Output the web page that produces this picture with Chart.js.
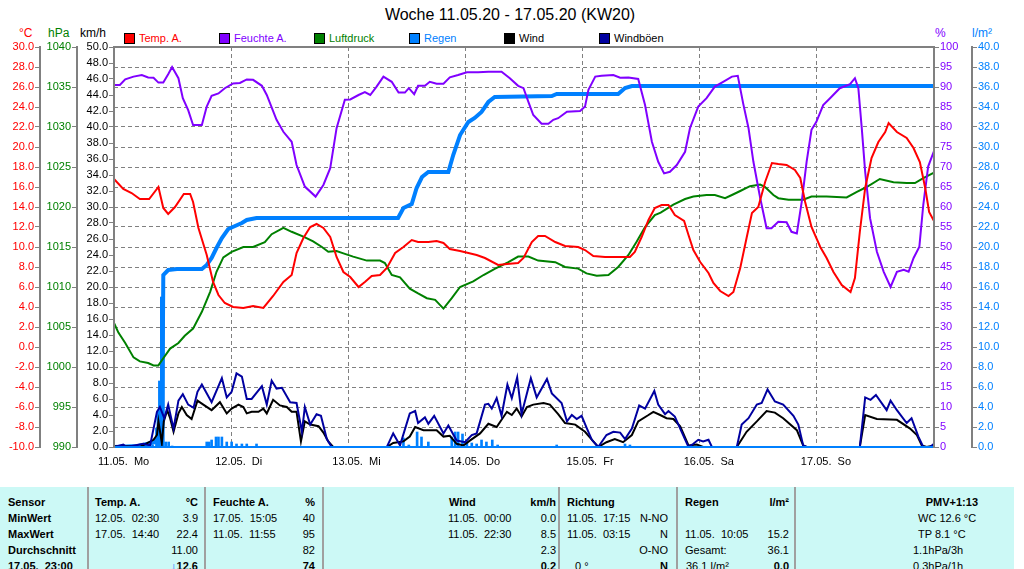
<!DOCTYPE html>
<html>
<head>
<meta charset="utf-8">
<script src="https://cdn.jsdelivr.net/npm/chart.js@4.4.1/dist/chart.umd.min.js"></script>
<style>
  body { margin: 0; width: 1024px; height: 569px; position: relative; overflow: hidden; background: #fff;
         font-family: 'Liberation Sans', Arial, sans-serif; font-size: 11px; }
  .abs { position: absolute; white-space: pre; line-height: 14px; }
  #title { position: absolute; left: 0; width: 1020px; top: 6px; text-align: center; font-size: 16px; color: #000; }
  .sq { position: absolute; width: 9px; height: 9px; border: 1px solid #000; top: 33px; }
  #tab { position: absolute; left: 0; top: 487px; width: 1014px; height: 82px; background: #ccf9f6; }
  #tab .abs { line-height: 16px; }
  .sep { position: absolute; top: 0; width: 2px; height: 82px; background: #a0a0a0; }
</style>
</head>
<body>

<div id="title">Woche 11.05.20 - 17.05.20 (KW20)</div>

<!-- einheiten -->
<div class="abs" style="left:19px; top:26px; color:#ff0000; font-size:12px">°C</div>
<div class="abs" style="left:48px; top:26px; color:#008000; font-size:12px">hPa</div>
<div class="abs" style="left:80px; top:26px; color:#000; font-size:12px">km/h</div>
<div class="abs" style="left:935px; top:26px; color:#8000ff; font-size:12px">%</div>
<div class="abs" style="left:972px; top:26px; color:#0080ff; font-size:12px">l/m²</div>

<!-- legende -->
<div class="sq" style="left:124px; background:#ff0000"></div><div class="abs" style="left:139px; top:31px; color:#ff0000">Temp. A.</div>
<div class="sq" style="left:219px; background:#8000ff"></div><div class="abs" style="left:234px; top:31px; color:#8000ff">Feuchte A.</div>
<div class="sq" style="left:314px; background:#008000"></div><div class="abs" style="left:329px; top:31px; color:#008000">Luftdruck</div>
<div class="sq" style="left:409px; background:#0080ff"></div><div class="abs" style="left:424px; top:31px; color:#0080ff">Regen</div>
<div class="sq" style="left:504px; background:#000000"></div><div class="abs" style="left:519px; top:31px; color:#000">Wind</div>
<div class="sq" style="left:599px; background:#0000a0"></div><div class="abs" style="left:614px; top:31px; color:#000">Windböen</div>

<canvas id="chart" width="1024" height="487" style="position:absolute; left:0; top:0"></canvas>

<div id="tab"></div>

<script>
// TAGE (x achse in stunden ab 11.05. 00:00)

const dayLabels = ['11.05.  Mo', '12.05.  Di', '13.05.  Mi', '14.05.  Do', '15.05.  Fr', '16.05.  Sa', '17.05.  So'];

// TEMPERATUR

const tempHours = [0,1.9,3.6,5.3,7.2,9.1,10.1,11.1,12.5,14.3,15.6,16.2,17.3,19.0,20.3,21.4,22.7,24.4,26.5,28.5,
  30.6,32.6,34.7,36.4,37.4,38.8,40.2,41.5,42.9,44.3,45.6,47.0,48.4,50.1,51.4,52.8,54.5,55.9,57.6,59.3,
  61.0,62.3,64.4,66.1,67.5,68.8,70.9,72.6,74.3,76.0,78.7,80.5,82.8,83.9,85.6,86.9,88.3,90.4,92.4,95.1,
  96.5,98.2,100.6,103.3,105.7,106.7,108.1,109.5,110.8,112.2,113.6,114.9,116.8,117.7,118.7,120.1,121.8,122.8,124.2,125.9,
  126.9,128.3,129.6,130.7,132.0,133.4,134.8,136.1,137.8,139.5,140.6,141.6,142.9,144.7,146.0,147.4,149.1,150.9,151.8,152.8,
  153.9,155.2,156.6,158.0,158.7,160.4,162.4,163.8,165.1,166.2,167.0,168];
const tempValues = [16.8,15.8,15.4,14.8,14.8,16.0,13.9,13.3,14.0,15.3,15.3,14.5,11.9,9.2,6.5,5.2,4.4,4.0,3.9,4.1,
  3.9,5.1,6.5,7.2,9.4,10.9,12.0,12.3,11.9,11.0,9.0,7.5,7.0,6.0,6.5,7.1,7.2,7.9,9.4,10.0,
  10.7,10.5,10.5,10.6,10.4,9.8,9.6,9.4,9.2,8.9,8.2,8.3,8.4,8.9,10.5,11.1,11.1,10.5,10.1,10.0,
  9.7,9.1,9.0,9.0,9.0,9.5,11.0,12.7,13.9,14.2,14.2,13.2,12.6,11.2,9.7,8.5,7.4,6.4,5.6,5.1,
  5.5,7.9,10.9,13.4,14.0,16.5,18.4,18.3,18.2,17.7,16.9,14.5,12.0,10.0,8.9,7.5,6.2,5.5,6.9,11.5,
  15.9,18.9,20.5,21.5,22.4,21.5,20.9,19.9,18.5,15.9,13.5,12.6];

// FEUCHTE

const humHours = [0,1.2,2.3,4.0,5.7,7.0,8.1,9.1,10.1,11.1,11.9,13.2,14.1,15.2,16.2,18.0,19.0,20.0,21.4,22.7,
  24.4,25.8,27.2,28.5,30.3,31.3,33.3,34.7,36.4,37.4,39.1,41.3,42.9,44.3,45.6,47.3,48.4,50.1,51.4,52.5,
  53.8,55.2,56.9,58.3,59.6,60.4,61.5,62.3,63.7,64.7,66.1,67.5,68.8,70.5,72.3,74.6,76.7,79.4,81.1,82.8,
  83.9,84.9,85.9,87.6,89.0,90.0,91.0,92.8,95.5,96.5,97.2,98.6,99.9,102.3,103.7,105.4,107.4,108.8,110.2,111.5,
  112.7,113.9,115.3,117.0,118.0,119.7,121.4,123.1,124.8,126.6,127.8,128.9,130.0,131.0,132.4,133.7,134.7,136.1,137.8,138.8,
  139.9,140.9,141.9,142.9,143.9,145.3,146.7,148.7,150.8,151.8,152.5,153.2,153.9,154.9,156.3,157.7,159.1,160.4,161.8,162.8,
  163.8,165.0,165.8,166.8,168];
const humValues = [90.5,90.5,91.9,92.6,93.0,92.4,92.3,91.1,91.1,93.2,95,92.2,87.2,84.2,80.5,80.5,85.1,87.8,88.4,89.7,
  90.9,91.0,91.9,91.8,90.3,88.0,81.8,78.8,76.3,70.5,65.1,62.6,65.5,69.7,79.7,86.8,86.9,88.0,88.7,88.0,
  90.1,92.6,91.3,88.6,88.6,89.7,88.2,90.3,90.3,91.3,90.8,90.8,92.4,93.0,93.7,93.7,93.8,93.8,92.2,90.3,
  89.7,86.3,83.0,80.8,80.8,81.8,82.2,83.8,84.0,85.1,89.3,92.6,92.8,93.0,92.3,92.4,92.0,85.5,76.3,71.3,
  68.4,68.8,70.5,73.8,79.7,85.1,87.2,90.1,91.3,92.6,92.8,85.9,79.7,71.3,62.2,54.7,54.7,56.3,56.2,53.8,
  53.4,61.3,71.3,79.3,81.3,85.5,87.2,89.7,90.7,92.2,89.7,79.7,68.8,57.2,48.8,43.8,40,43.8,44.3,43.8,
  47.2,50.1,60.5,70.1,74];

// LUFTDRUCK

const pressHours = [0,0.9,2.3,4.0,5.3,7.0,8.1,9.1,10.1,11.5,13.2,14.5,16.2,18.0,19.7,21.0,22.4,24.1,26.5,28.5,
  30.9,32.3,34.7,36.4,38.8,40.8,42.6,43.9,45.6,47.0,49.0,51.8,54.5,55.5,56.9,58.6,60.6,62.3,64.1,65.8,
  67.5,69.2,70.9,73.6,75.7,78.1,80.8,82.8,84.9,86.9,90.4,92.4,95.1,96.8,98.9,101.3,103.3,105.4,107.1,108.8,
  110.8,112.0,114.6,117.0,118.7,121.4,123.1,125.2,126.6,128.3,130.3,132.4,133.4,135.1,136.1,138.2,141.2,142.9,146.0,150.1,
  152.2,154.2,156.9,159.7,162.4,164.1,165.8,168];
const pressValues = [1005.5,1004.3,1003.0,1001.2,1000.7,1000.5,1000.2,1000.2,1001.1,1002.3,1003.0,1003.9,1004.8,1006.9,1009.4,1011.9,1013.7,1014.4,1015.0,1015.0,
  1015.6,1016.6,1017.4,1016.9,1016.3,1015.7,1015.0,1014.4,1014.5,1014.2,1013.8,1013.3,1013.3,1013.0,1011.5,1011.2,1009.8,1009.2,1008.6,1008.4,
  1007.3,1008.6,1010.0,1010.7,1011.5,1012.3,1013.1,1013.8,1013.8,1013.3,1013.1,1012.5,1012.3,1011.7,1011.4,1011.5,1012.5,1014.0,1015.7,1017.5,
  1019.0,1019.3,1020.3,1021.0,1021.3,1021.5,1021.5,1021.1,1021.5,1022.0,1022.6,1022.8,1022.5,1021.5,1021.1,1020.9,1020.9,1021.3,1021.3,1021.2,
  1021.9,1022.5,1023.5,1023.1,1023.0,1023.0,1023.6,1024.3];

// REGEN (summe und einzelwerte)

const rainSumHours = [0,5,8.5,9.3,9.9,10.1,11.1,12.9,18.0,19.0,20.0,21.0,22.1,23.4,24.8,26.2,27.2,29.2,58.2,59.3,
  61.0,62.0,63.1,64.4,68.5,69.5,70.9,72.6,73.9,75.3,76.7,78.0,89.7,90.7,103.3,104.7,106.1,168];
const rainSumValues = [0,0.1,0.5,1.5,3.0,17.2,17.7,17.8,17.8,18.2,18.9,19.9,20.9,21.8,22.1,22.4,22.7,22.9,22.9,23.9,
  24.3,25.9,27.0,27.5,27.5,29.2,31.2,32.5,32.9,33.5,34.5,35.0,35.1,35.3,35.3,35.9,36.1,36.1];

const rainHours = [4.5,5.3,6.1,7.0,7.9,8.7,9.0,9.3,9.7,10.1,10.6,11.2,11.9,19.0,19.5,20.0,20.9,21.4,22.1,23.1,
  24.1,25.1,26.2,27.2,29.2,59.3,60.4,62.1,63.0,64.4,69.2,69.9,70.5,71.4,72.3,73.3,74.3,75.3,76.3,77.5,
  78.6,90.7,104.7,105.7];
const rainValues = [0.1,0.2,0.2,0.2,0.2,1.9,3.5,6.6,15.0,15.2,0.5,0.5,0.1,0.5,0.5,0.7,1.0,1.0,1.0,0.5,
  0.5,0.3,0.3,0.3,0.3,0.9,0.2,1.5,1.0,0.5,1.0,1.5,1.5,1.3,0.5,0.4,0.3,0.7,0.5,0.7,
  0.2,0.2,0.3,0.2];

// WIND

const windHours = [0,4.5,5.3,8.1,8.8,9.1,9.8,10.2,10.9,11.5,12.2,13.2,13.9,14.9,15.9,17.1,18.3,20.0,21.7,23.1,
  24.1,25.5,26.5,27.2,28.2,29.6,30.6,31.3,32.6,34.0,35.4,36.4,37.4,38.3,39.1,40.2,41.9,42.9,43.9,44.9,
  55.9,57.2,59.3,60.6,61.7,63.4,66.1,67.5,68.8,70.2,71.6,72.9,75.0,76.7,78.4,80.5,81.5,82.5,83.5,84.6,
  85.9,88.0,89.3,91.0,92.4,94.5,96.5,98.2,99.2,100.9,102.6,104.3,106.1,107.4,109.5,110.5,111.9,113.2,114.6,116.0,
  117.7,119.4,120.7,127.6,129.6,131.7,133.7,135.4,137.1,139.9,141.2,141.9,152.8,153.9,156.3,160.4,163.1,164.5,165.5,166.5,168];
const windValues = [0.1,0.1,0.0,0.9,1.5,3.2,0.5,3.2,4.6,3.6,1.9,4.2,5.0,4.0,3.5,5.8,5.3,4.6,5.6,4.2,
  4.8,5.3,5.0,4.2,4.4,4.4,4.8,4.2,5.9,5.2,5.0,4.4,4.4,0.7,3.2,2.8,2.6,1.8,0.7,0,
  0,0.5,0.7,1.3,2.5,2.1,2.1,1.3,1.4,0.4,0.2,0.8,1.7,2.9,2.5,4.4,4.0,4.8,3.8,5.0,
  5.3,5.5,5.3,4.1,3.0,2.8,1.9,0.7,0,0.6,1.0,0.6,1.5,3.2,4.0,4.4,4.0,3.6,3.5,2.6,
  0.2,0.3,0,0,1.9,3.2,4.5,4.3,3.6,2.1,0.2,0,0,4.0,3.5,3.4,2.3,1.5,0.2,0,0.2];

// WINDBOEEN

const gustHours = [0,1.9,2.6,6.0,7.4,8.8,9.4,10.3,11.1,12.2,13.2,14.1,15.2,16.3,17.1,18.0,20.0,22.1,23.1,24.1,
  25.1,26.2,27.2,28.2,30.3,31.3,32.3,33.3,34.4,36.1,37.4,38.5,39.1,40.2,41.5,42.4,43.6,44.6,55.9,57.2,
  58.6,60.6,61.7,62.3,63.7,64.4,65.6,67.5,68.5,70.2,71.9,73.3,74.3,76.0,76.7,77.4,78.4,79.4,80.6,81.5,
  82.6,83.5,85.4,86.6,88.7,89.7,91.7,92.8,93.8,94.8,95.8,96.9,97.9,99.2,100.9,102.3,103.7,104.7,106.1,107.6,
  108.8,110.7,111.5,112.9,113.6,114.9,116.3,117.7,118.7,119.7,120.7,121.8,122.5,127.6,128.6,130.0,131.7,132.7,133.9,135.4,
  137.1,139.2,140.2,141.2,141.9,152.8,153.9,155.0,156.1,158.3,159.1,160.4,162.4,163.4,164.8,165.8,167.2,168];
const gustValues = [0,0.3,0,0.4,0.2,4.4,5.0,3.6,5.3,2.3,5.8,6.6,5.3,4.9,6.9,7.8,5.6,8.6,6.2,6.9,
  9.2,8.8,6.0,6.0,7.6,5.3,8.3,7.3,7.4,5.6,5.5,1.9,5.0,2.8,4.1,3.9,1.0,0,0,1.7,
  0.2,4.2,4.5,3.0,3.7,2.9,3.9,1.7,2.7,0.8,0.6,1.5,1.7,5.3,5.4,4.8,6.1,3.9,7.8,6.1,
  8.7,4.1,8.6,6.2,8.5,6.7,5.5,3.2,4.0,3.5,3.9,2.3,0.9,0,1.5,1.9,1.8,1.0,2.3,5.2,
  4.8,7.0,5.3,4.1,4.5,3.8,1.9,0,0.4,0.9,0.7,0.9,0,0,2.8,3.6,5.3,5.5,7.2,5.7,
  5.3,3.9,2.8,0.2,0,0,6.2,5.9,6.5,4.6,5.8,4.6,3.0,3.6,1.3,0,0,0.4];

function pts(hours, values){
    return hours.map((h, i) => ({x: h, y: values[i]}));
}

// TABELLE

const tabCells = [
    // text, x, zeile, ausrichtung, fett
    ['Sensor', 8, 0, 'l', 1], ['Temp. A.', 95, 0, 'l', 1], ['°C', 198, 0, 'r', 1], ['Feuchte A.', 213, 0, 'l', 1], ['%', 315, 0, 'r', 1],
    ['Wind', 449, 0, 'l', 1], ['km/h', 556, 0, 'r', 1], ['Richtung', 567, 0, 'l', 1], ['Regen', 685, 0, 'l', 1], ['l/m²', 789, 0, 'r', 1], ['PMV+1:13', 978, 0, 'r', 1],
    ['MinWert', 8, 1, 'l', 1], ['12.05.  02:30', 95, 1, 'l', 0], ['3.9', 198, 1, 'r', 0], ['17.05.  15:05', 213, 1, 'l', 0], ['40', 315, 1, 'r', 0],
    ['11.05.  00:00', 448, 1, 'l', 0], ['0.0', 556, 1, 'r', 0], ['11.05.  17:15', 567, 1, 'l', 0], ['N-NO', 668, 1, 'r', 0], ['WC 12.6 °C', 918, 1, 'l', 0],
    ['MaxWert', 8, 2, 'l', 1], ['17.05.  14:40', 95, 2, 'l', 0], ['22.4', 198, 2, 'r', 0], ['11.05.  11:55', 213, 2, 'l', 0], ['95', 315, 2, 'r', 0],
    ['11.05.  22:30', 448, 2, 'l', 0], ['8.5', 556, 2, 'r', 0], ['11.05.  03:15', 567, 2, 'l', 0], ['N', 668, 2, 'r', 0], ['11.05.  10:05', 685, 2, 'l', 0], ['15.2', 789, 2, 'r', 0], ['TP 8.1 °C', 918, 2, 'l', 0],
    ['Durchschnitt', 8, 3, 'l', 1], ['11.00', 198, 3, 'r', 0], ['82', 315, 3, 'r', 0], ['2.3', 556, 3, 'r', 0], ['O-NO', 668, 3, 'r', 0],
    ['Gesamt:', 685, 3, 'l', 0], ['36.1', 789, 3, 'r', 0], ['1.1hPa/3h', 913, 3, 'l', 0],
    ['17.05.  23:00', 8, 4, 'l', 1], ['12.6', 198, 4, 'r', 1], ['74', 315, 4, 'r', 1], ['0.2', 556, 4, 'r', 1], [' 0 °', 572, 4, 'l', 0], ['N', 668, 4, 'r', 1],
    ['36.1 l/m²', 686, 4, 'l', 0], ['0.0', 789, 4, 'r', 1], ['0.3hPa/1h', 913, 4, 'l', 0]
];

let tab = document.getElementById('tab');
[88, 205, 323, 559, 677, 795].forEach(x => {
    let d = document.createElement('div');
    d.className = 'sep';
    d.style.left = (x - 1) + 'px';
    tab.appendChild(d);
});
tabCells.forEach(c => {
    let d = document.createElement('div');
    d.className = 'abs';
    d.style.top = (7 + c[2] * 16) + 'px';
    if (c[3] == 'l') d.style.left = c[1] + 'px';
    else d.style.right = (1014 - c[1]) + 'px';
    if (c[4]) d.style.fontWeight = 'bold';
    d.textContent = c[0];
    if (c[0] == '12.6') d.innerHTML = '<span style="color:#0050ff">↓</span>12.6';
    tab.appendChild(d);
});

// GRAFIK

Chart.defaults.font.family = "'Liberation Sans', Arial, sans-serif";
Chart.defaults.font.size = 11;

const frame = {
    id: 'frame',
    afterDatasetsDraw(chart){
        const {ctx, chartArea: {left, top, right, bottom}} = chart;
        ctx.save();
        ctx.strokeStyle = '#0080ff';
        ctx.lineWidth = 2;
        ctx.beginPath();
        ctx.moveTo(left, bottom);
        ctx.lineTo(right, bottom);
        ctx.stroke();
        ctx.strokeStyle = '#808080';
        ctx.lineWidth = 2;
        ctx.beginPath();
        ctx.moveTo(left, bottom + 1);
        ctx.lineTo(left, top);
        ctx.lineTo(right, top);
        ctx.lineTo(right, bottom + 1);
        ctx.stroke();
        ctx.restore();
    }
};

function noPad(s){
    s.paddingLeft = 0; s.paddingRight = 0; s.paddingTop = 0; s.paddingBottom = 0;
}

function sideAxis(pos, weight, min, max, step, color, width, dec){
    return {
        type: 'linear', position: pos, weight: weight, min: min, max: max,
        afterFit: s => { s.width = width; noPad(s); },
        ticks: { stepSize: step, autoSkip: false, color: color, padding: 1,
                 callback: v => v.toFixed(dec) },
        grid: { drawOnChartArea: false, drawTicks: true, tickLength: 5, color: '#808080' },
        border: { display: true, color: '#808080', width: 2 }
    };
}

var ctx = document.getElementById('chart');

var wetter = new Chart(ctx, {
    data: {
        datasets: [
            { type: 'line', label: 'Temp. A.', data: pts(tempHours, tempValues), yAxisID: 'yT',
              borderColor: '#ff0000', borderWidth: 2, pointRadius: 0 },
            { type: 'line', label: 'Feuchte A.', data: pts(humHours, humValues), yAxisID: 'yH',
              borderColor: '#8000ff', borderWidth: 2, pointRadius: 0 },
            { type: 'line', label: 'Luftdruck', data: pts(pressHours, pressValues), yAxisID: 'yP',
              borderColor: '#008000', borderWidth: 2, pointRadius: 0 },
            { type: 'line', label: 'Windböen', data: pts(gustHours, gustValues), yAxisID: 'yW',
              borderColor: '#0000a0', borderWidth: 2, pointRadius: 0 },
            { type: 'line', label: 'Wind', data: pts(windHours, windValues), yAxisID: 'yW',
              borderColor: '#000000', borderWidth: 2, pointRadius: 0 },
            { type: 'line', label: 'Regen', data: pts(rainSumHours, rainSumValues), yAxisID: 'yR',
              borderColor: '#0080ff', borderWidth: 4, pointRadius: 0 },
            { type: 'bar', label: 'Regen h', data: pts(rainHours, rainValues), yAxisID: 'yR',
              backgroundColor: '#0080ff', barThickness: 2 }
        ]
    },
    options: {
        responsive: false,
        animation: false,
        events: [],
        layout: { padding: { top: 47, left: 0, right: 0, bottom: 0 } },
        plugins: { legend: { display: false }, tooltip: { enabled: false } },
        scales: {
            x: {
                type: 'linear', min: 0, max: 168, offset: false,
                afterFit: s => { s.height = 40; noPad(s); },
                ticks: { stepSize: 24, autoSkip: false, maxRotation: 0, align: 'start', labelOffset: -16,
                         padding: 8, color: '#000',
                         callback: v => dayLabels[v / 24] || '' },
                grid: { color: '#808080', drawTicks: false, offset: false },
                border: { display: false, dash: [4, 3] }
            },
            yT: sideAxis('left', 3, -10, 30, 2, '#ff0000', 40, 1),
            yP: sideAxis('left', 2, 990, 1040, 5, '#008000', 37, 0),
            yW: sideAxis('left', 1, 0, 50, 2, '#000000', 37, 1),
            yH: Object.assign(sideAxis('right', 1, 0, 100, 5, '#8000ff', 38, 0), {
                grid: { drawOnChartArea: true, drawTicks: true, tickLength: 5, color: '#808080',
                        tickColor: '#808080', tickBorderDash: [] },
                border: { display: false, dash: [4, 3] }
            }),
            yR: sideAxis('right', 2, 0, 40, 2, '#0080ff', 52, 1)
        }
    },
    plugins: [frame]
});
</script>
</body>
</html>
